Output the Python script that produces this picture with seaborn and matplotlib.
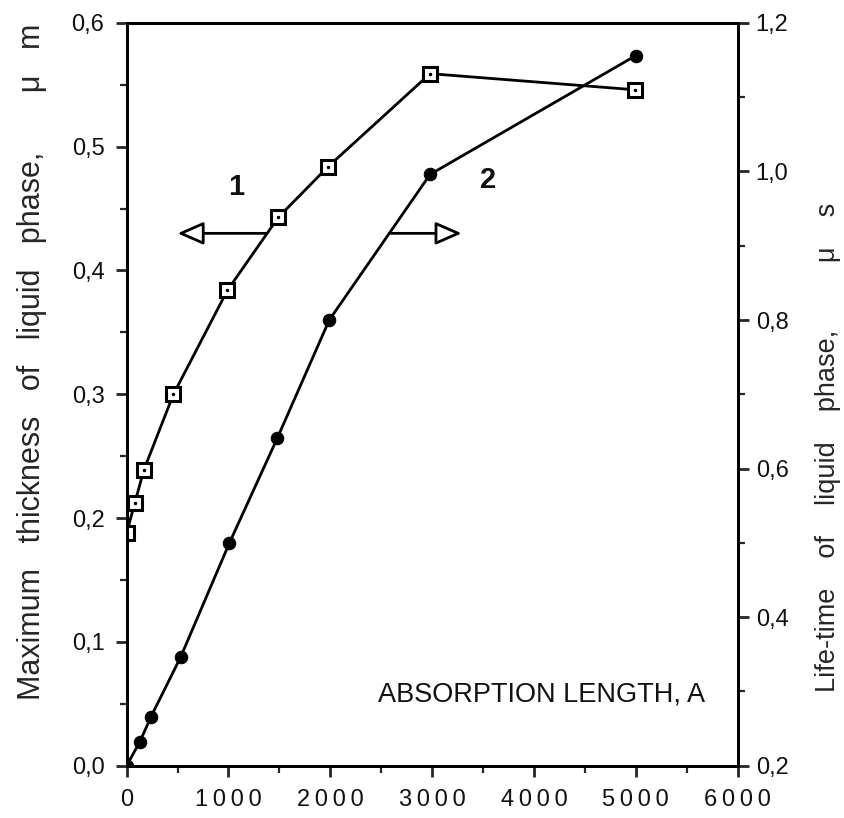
import matplotlib
matplotlib.use("Agg")
import matplotlib.pyplot as plt
import seaborn as sns
import pandas as pd
from matplotlib.ticker import MultipleLocator, FuncFormatter

# curve 1: max thickness of liquid phase (left axis, um)
length_1 = [0, 80, 170, 460, 990, 1490, 1980, 2980, 4990]
thickness = [0.188, 0.212, 0.239, 0.300, 0.384, 0.443, 0.484, 0.559, 0.546]

# curve 2: life-time of liquid phase (right axis, us)
length_2 = [0, 130, 240, 530, 1010, 1480, 1990, 2980, 5000]
lifetime = [0.20, 0.232, 0.266, 0.346, 0.500, 0.641, 0.800, 0.996, 1.156]

df1 = pd.DataFrame({"length": length_1, "thickness": thickness})
df2 = pd.DataFrame({"length": length_2, "lifetime": lifetime})

sns.set_style("ticks")
plt.rcParams["font.family"] = ["Liberation Sans", "DejaVu Sans"]
plt.rcParams["text.color"] = "#111111"

comma = FuncFormatter(lambda v, p: f"{v:.1f}".replace(".", ","))
# wide digit spacing like the original typesetting
spaced = FuncFormatter(lambda v, p: "\u2009".join(f"{v:.0f}"))

fig = plt.figure(figsize=(8.44, 8.18), dpi=100)
ax = fig.add_axes([0.150, 0.064, 0.724, 0.908])
ax2 = ax.twinx()

sns.lineplot(data=df1, x="length", y="thickness", ax=ax, color="black", lw=2,
             marker="s", markersize=9.5, markerfacecolor="white",
             markeredgecolor="black", markeredgewidth=2.2)
ax.plot(df1["length"], df1["thickness"], ls="none", marker=".", ms=3, color="black")

sns.lineplot(data=df2, x="length", y="lifetime", ax=ax2, color="black", lw=2,
             marker="o", markersize=9, markerfacecolor="black",
             markeredgecolor="black")

ax.set_xlim(0, 6000)
ax.set_ylim(0, 0.6)
ax2.set_ylim(0.2, 1.2)

ax.xaxis.set_major_locator(MultipleLocator(1000))
ax.xaxis.set_minor_locator(MultipleLocator(500))
ax.yaxis.set_major_locator(MultipleLocator(0.1))
ax.yaxis.set_minor_locator(MultipleLocator(0.05))
ax2.yaxis.set_major_locator(MultipleLocator(0.2))
ax2.yaxis.set_minor_locator(MultipleLocator(0.1))
ax.xaxis.set_major_formatter(spaced)
ax.yaxis.set_major_formatter(comma)
ax2.yaxis.set_major_formatter(comma)

for a in (ax, ax2):
    a.tick_params(which="major", direction="out", length=8, width=2, labelsize=17,
                  pad=5, labelcolor="#111111")
    a.tick_params(which="minor", direction="out", length=5, width=1.6)
    for s in a.spines.values():
        s.set_linewidth(2)
        s.set_color("black")
ax.tick_params(axis="y", which="major", pad=8)
ax.tick_params(axis="x", which="major", pad=9)

ax.set_xlabel("")
ax.set_ylabel("Maximum   thickness   of   liquid   phase,       \u03bc   m", fontsize=22)
ax.yaxis.set_label_coords(-0.131, 0.544)
ax2.set_ylabel("Life-time    of    liquid    phase,         \u03bc    s", fontsize=19.5)
ax2.yaxis.set_label_coords(1.126, 0.428)

ax.text(1000, 0.461, "1", fontsize=21, fontweight="bold")
ax.text(3470, 0.467, "2", fontsize=21, fontweight="bold")

arrow = dict(arrowstyle="-|>,head_length=1.6,head_width=0.7", lw=2,
             fc="white", ec="black", shrinkA=0, shrinkB=0)
ax.annotate("", xy=(500, 0.43), xytext=(1365, 0.43), arrowprops=arrow)
ax.annotate("", xy=(3290, 0.43), xytext=(2580, 0.43), arrowprops=arrow)

ax.text(2470, 0.052, "ABSORPTION LENGTH, A", fontsize=19.5)

fig.savefig("out.png", dpi=100)
